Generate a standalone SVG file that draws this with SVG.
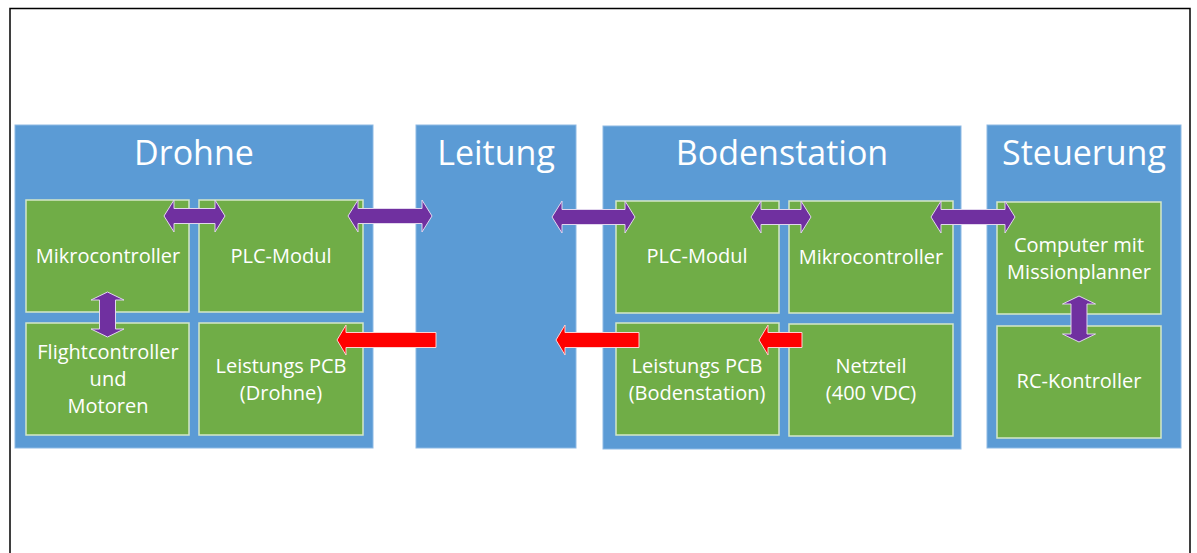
<svg xmlns="http://www.w3.org/2000/svg" width="1197" height="553" viewBox="0 0 1197 553">
<style>
.frame{fill:none;stroke:#000;stroke-width:1.5}
.grp{fill:#5B9BD5;stroke:#8db9e4;stroke-width:1}
.box{fill:#70AD47;stroke:#d5e8c8;stroke-width:1.5}
.title{font-family:"Open Sans",sans-serif;font-size:34px;fill:#fff;text-anchor:middle}
.lbl{font-family:"Open Sans",sans-serif;font-size:20px;fill:#fff;text-anchor:middle}
.pa{fill:#7030A0;stroke:#e2d6ee;stroke-width:1}
.ra{fill:#FF0000;stroke:#ffd0d0;stroke-width:1}
</style>
<rect width="1197" height="553" fill="#fff"/>
<path class="frame" d="M10,553 V8.5 H1190 V553"/>

<g id="drohne">
<rect class="grp" x="15" y="125" width="358" height="323"/>
<text class="title" x="194" y="165">Drohne</text>
</g>
<g id="drohne-mikrocontroller">
<rect class="box" x="26" y="200" width="163" height="112"/>
<text class="lbl" x="108" y="263">Mikrocontroller</text>
</g>
<g id="drohne-plc">
<rect class="box" x="199" y="200" width="164" height="112"/>
<text class="lbl" x="281" y="263">PLC-Modul</text>
</g>
<g id="drohne-flightcontroller">
<rect class="box" x="26" y="323" width="163" height="112"/>
<text class="lbl" x="108" y="359">Flightcontroller</text>
<text class="lbl" x="108" y="386">und</text>
<text class="lbl" x="108" y="413">Motoren</text>
</g>
<g id="drohne-leistung">
<rect class="box" x="199" y="323" width="164" height="112"/>
<text class="lbl" x="281" y="373">Leistungs PCB</text>
<text class="lbl" x="281" y="400">(Drohne)</text>
</g>

<g id="leitung">
<rect class="grp" x="416" y="125" width="160" height="323"/>
<text class="title" x="496" y="165">Leitung</text>
</g>

<g id="bodenstation">
<rect class="grp" x="603" y="126" width="358" height="323"/>
<text class="title" x="782" y="165">Bodenstation</text>
</g>
<g id="boden-plc">
<rect class="box" x="616" y="201" width="163" height="112"/>
<text class="lbl" x="697" y="263">PLC-Modul</text>
</g>
<g id="boden-mikrocontroller">
<rect class="box" x="789" y="201" width="164" height="112"/>
<text class="lbl" x="871" y="264">Mikrocontroller</text>
</g>
<g id="boden-leistung">
<rect class="box" x="616" y="323" width="163" height="112"/>
<text class="lbl" x="697" y="373">Leistungs PCB</text>
<text class="lbl" x="697" y="400">(Bodenstation)</text>
</g>
<g id="boden-netzteil">
<rect class="box" x="789" y="324" width="164" height="112"/>
<text class="lbl" x="871" y="373">Netzteil</text>
<text class="lbl" x="871" y="400">(400 VDC)</text>
</g>

<g id="steuerung">
<rect class="grp" x="987" y="125" width="194" height="323"/>
<text class="title" x="1084" y="165">Steuerung</text>
</g>
<g id="steuerung-computer">
<rect class="box" x="997" y="202" width="164" height="112"/>
<text class="lbl" x="1079" y="252">Computer mit</text>
<text class="lbl" x="1079" y="279">Missionplanner</text>
</g>
<g id="steuerung-rc">
<rect class="box" x="997" y="326" width="164" height="112"/>
<text class="lbl" x="1079" y="388">RC-Kontroller</text>
</g>

<g id="connectors">
<path class="pa" d="M164,216 L174,200 L174,208.5 L215,208.5 L215,200 L225,216 L215,232 L215,223.5 L174,223.5 L174,232 Z"/>
<path class="pa" d="M348,216 L358,200 L358,208.5 L422,208.5 L422,200 L432,216 L422,232 L422,223.5 L358,223.5 L358,232 Z"/>
<path class="pa" d="M552,217 L562,201 L562,209.5 L625,209.5 L625,201 L635,217 L625,233 L625,224.5 L562,224.5 L562,233 Z"/>
<path class="pa" d="M751,217 L761,201 L761,209.5 L801,209.5 L801,201 L811,217 L801,233 L801,224.5 L761,224.5 L761,233 Z"/>
<path class="pa" d="M931,217 L941,201 L941,209.5 L1005,209.5 L1005,201 L1015,217 L1005,233 L1005,224.5 L941,224.5 L941,233 Z"/>
<path class="pa" d="M107.5,292 L124,300 L115.5,300 L115.5,329 L124,329 L107.5,337 L91,329 L99.5,329 L99.5,300 L91,300 Z"/>
<path class="pa" d="M1079,296 L1095.5,304 L1087,304 L1087,334 L1095.5,334 L1079,342 L1062.5,334 L1071,334 L1071,304 L1062.5,304 Z"/>
<path class="ra" d="M337,340 L346,325 L346,332.5 L436,332.5 L436,347.5 L346,347.5 L346,355 Z"/>
<path class="ra" d="M556,340 L565,325 L565,332.5 L639,332.5 L639,347.5 L565,347.5 L565,355 Z"/>
<path class="ra" d="M759,340 L768,325 L768,332.5 L802,332.5 L802,347.5 L768,347.5 L768,355 Z"/>
</g>
</svg>
